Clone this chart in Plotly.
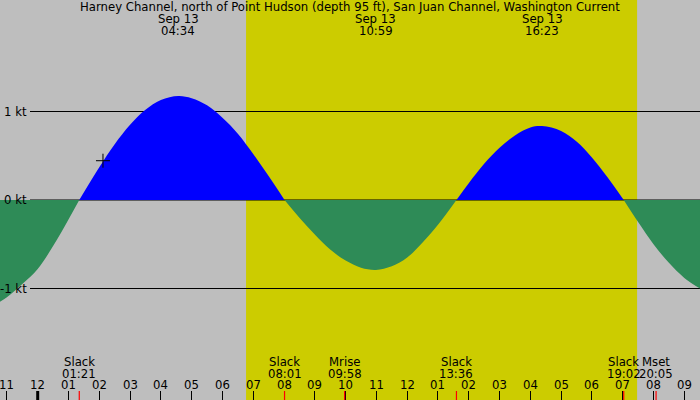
import plotly.graph_objects as go

# Harney Channel current, Sep 13 -- hours from local midnight, knots
hours = [-1.224, -1.0, -0.5, 0.0, 0.5, 1.0, 1.35,
         2.0, 2.5, 3.0, 3.5, 4.0, 4.567, 5.0, 5.5, 6.0, 6.5, 7.0, 7.5, 8.017,
         8.5, 9.0, 9.5, 10.0, 10.5, 10.983, 11.5, 12.0, 12.5, 13.0, 13.6,
         14.0, 14.5, 15.0, 15.5, 16.0, 16.383, 17.0, 17.5, 18.0, 18.5, 19.033,
         19.5, 20.0, 20.5, 21.0, 21.51]
knots = [-1.15, -1.10, -0.95, -0.78, -0.52, -0.22, 0.0,
         0.37, 0.63, 0.85, 1.02, 1.13, 1.175, 1.15, 1.07, 0.93, 0.75, 0.52, 0.27, 0.0,
         -0.20, -0.39, -0.56, -0.685, -0.765, -0.79, -0.75, -0.65, -0.48, -0.28, 0.0,
         0.19, 0.41, 0.59, 0.73, 0.82, 0.836, 0.78, 0.66, 0.48, 0.26, 0.0,
         -0.25, -0.50, -0.71, -0.88, -1.0]

# max current events (top labels)
max_dates = ["Sep 13", "Sep 13", "Sep 13"]
max_times = ["04:34", "10:59", "16:23"]

# slack / moon events (bottom labels)
event_names = ["Slack", "Slack", "Mrise", "Slack", "Slack", "Mset"]
event_times = ["01:21", "08:01", "09:58", "13:36", "19:02", "20:05"]

sunrise = "06:46"
sunset = "19:28"

tick_hours = list(range(-1, 22))
tick_labels = ["11", "12", "01", "02", "03", "04", "05", "06", "07", "08", "09", "10",
               "11", "12", "01", "02", "03", "04", "05", "06", "07", "08", "09"]

kt_levels = [1, 0, -1]
kt_labels = ["1 kt", "0 kt", "-1 kt"]

now_hour = [2.12]
now_kt = [0.444]

title = "Harney Channel, north of Point Hudson (depth 95 ft), San Juan Channel, Washington Current"


def to_hours(s):
    hh, mm = s.split(":")
    return int(hh) + int(mm) / 60.0


FONT = dict(family="DejaVu Sans", size=11.7, color="black")
W, H = 700, 400

# split the curve into flood / ebb pieces at the slack points
segments = []
cur_x, cur_y = [hours[0]], [knots[0]]
for h, v in zip(hours[1:], knots[1:]):
    cur_x.append(h)
    cur_y.append(v)
    if v == 0:
        segments.append((cur_x, cur_y))
        cur_x, cur_y = [h], [v]
if len(cur_x) > 1:
    segments.append((cur_x, cur_y))

fig = go.Figure()
for sx, sy in segments:
    col = "#0000ff" if max(sy) > 0 else "#2e8b57"
    fig.add_trace(go.Scatter(x=sx, y=sy, fill="tozeroy", mode="lines",
                             line=dict(width=0, color=col, shape="spline"),
                             fillcolor=col, hoverinfo="skip"))
fig.add_trace(go.Scatter(x=now_hour, y=now_kt, mode="markers",
                         marker=dict(symbol="cross-thin", size=10,
                                     line=dict(width=1, color="black"))))

shapes = []
# daylight band
shapes.append(dict(type="rect", xref="x", yref="paper", x0=to_hours(sunrise), x1=to_hours(sunset),
                   y0=0, y1=1, fillcolor="#cccc00", line=dict(width=0), layer="below"))
# kt reference lines
for lv in kt_levels:
    shapes.append(dict(type="line", xref="paper", yref="y", x0=30 / W, x1=1, y0=lv, y1=lv,
                       line=dict(color="black", width=1.2), layer="below"))
# midnight tick (thick)
shapes.append(dict(type="line", xref="x", yref="paper", x0=0, x1=0, y0=0, y1=9 / H,
                   line=dict(color="black", width=3)))
# event ticks (red)
for t in event_times:
    h = to_hours(t)
    shapes.append(dict(type="line", xref="x", yref="paper", x0=h, x1=h, y0=0, y1=9 / H,
                       line=dict(color="red", width=1.2)))

ann = []
ann.append(dict(text=title, x=0.5, y=1 - 7 / H, xref="paper", yref="paper",
                showarrow=False, font=FONT, yanchor="middle"))
for d, t in zip(max_dates, max_times):
    h = to_hours(t)
    ann.append(dict(text=d, x=h, y=1 - 19 / H, xref="x", yref="paper",
                    showarrow=False, font=FONT, yanchor="middle"))
    ann.append(dict(text=t, x=h, y=1 - 31 / H, xref="x", yref="paper",
                    showarrow=False, font=FONT, yanchor="middle"))
for n, t in zip(event_names, event_times):
    h = to_hours(t)
    ann.append(dict(text=n, x=h, y=1 - 362 / H, xref="x", yref="paper",
                    showarrow=False, font=FONT, yanchor="middle"))
    ann.append(dict(text=t, x=h, y=1 - 374 / H, xref="x", yref="paper",
                    showarrow=False, font=FONT, yanchor="middle"))
for lv, lab in zip(kt_levels, kt_labels):
    ann.append(dict(text=lab, x=29 / W, y=lv, xref="paper", yref="y",
                    showarrow=False, font=FONT, xanchor="right", yanchor="middle"))
for h, lab in zip(tick_hours, tick_labels):
    ann.append(dict(text=lab, x=h, y=1 - 385 / H, xref="x", yref="paper",
                    showarrow=False, font=FONT, yanchor="middle"))

fig.update_layout(
    width=W, height=H,
    margin=dict(l=0, r=0, t=0, b=0),
    paper_bgcolor="#bebebe",
    plot_bgcolor="#bebebe",
    showlegend=False,
    shapes=shapes,
    annotations=ann,
    xaxis=dict(range=[-1.2244, 21.51], showgrid=False, zeroline=False,
               tickvals=tick_hours, ticks="inside", ticklen=9, tickwidth=1,
               tickcolor="black", showticklabels=False, showline=False, fixedrange=True),
    yaxis=dict(range=[-2.26, 2.26], showgrid=False, zeroline=False,
               showticklabels=False, showline=False, fixedrange=True),
)

fig.write_html("out.html", config={"displayModeBar": False},
               post_script="document.body.style.margin='0';document.body.style.overflow='hidden';")
